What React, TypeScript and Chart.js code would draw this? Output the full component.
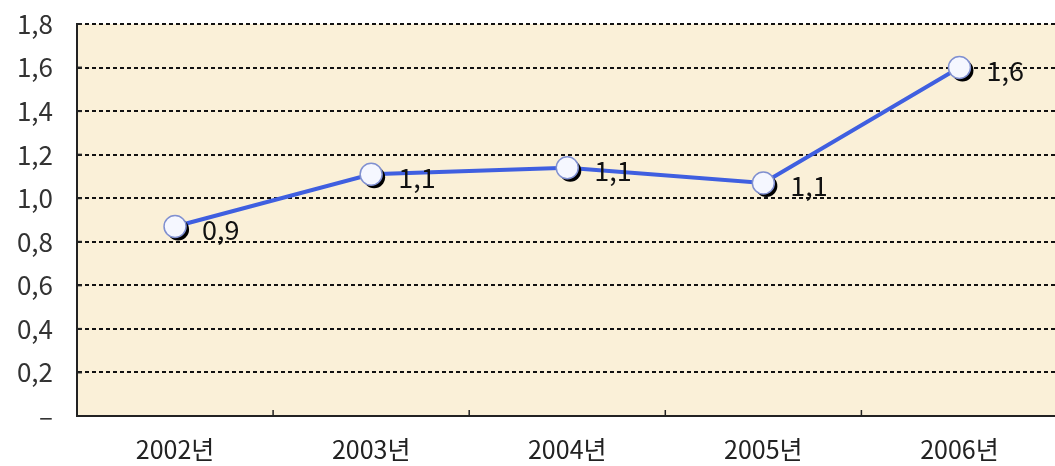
import React, { useEffect, useRef } from "react";
import { Chart, registerables } from "chart.js";

Chart.register(...registerables);

const categories = ["2002년", "2003년", "2004년", "2005년", "2006년"];
const values = [0.87, 1.11, 1.14, 1.07, 1.6];
const yTicks = [0, 0.2, 0.4, 0.6, 0.8, 1.0, 1.2, 1.4, 1.6, 1.8];

const FONT = "'Noto Sans CJK KR', 'Noto Sans', sans-serif";

const fmt = (v: number) => (v === 0 ? "–" : v.toFixed(1).replace(".", ","));

const bgPlugin = {
  id: "plotBg",
  beforeDraw(chart: any) {
    const { ctx, chartArea } = chart;
    ctx.save();
    ctx.fillStyle = "#FAF0D8";
    ctx.fillRect(chartArea.left, chartArea.top, chartArea.right - chartArea.left, chartArea.bottom - chartArea.top);
    ctx.restore();
  },
};

const innerTicks = {
  id: "innerTicks",
  afterDraw(chart: any) {
    const { ctx, chartArea } = chart;
    const xs = chart.scales.x;
    const ys = chart.scales.y;
    ctx.save();
    ctx.strokeStyle = "#222";
    ctx.lineWidth = 1.5;
    for (let i = 1; i < categories.length; i++) {
      const px = (xs.getPixelForValue(i - 1) + xs.getPixelForValue(i)) / 2;
      ctx.beginPath();
      ctx.moveTo(px, chartArea.bottom);
      ctx.lineTo(px, chartArea.bottom - 6);
      ctx.stroke();
    }
    ctx.lineWidth = 2;
    yTicks.forEach((v) => {
      if (v === 0) return;
      const py = ys.getPixelForValue(v);
      ctx.beginPath();
      ctx.moveTo(chartArea.left, py);
      ctx.lineTo(chartArea.left + 5, py);
      ctx.stroke();
    });
    ctx.restore();
  },
};

const shadowPlugin = {
  id: "pointShadow",
  beforeDatasetDraw(chart: any, args: any) {
    if (args.index !== 0) return;
    const ctx = chart.ctx;
    const meta = chart.getDatasetMeta(0);
    ctx.save();
    ctx.fillStyle = "#000";
    meta.data.forEach((el: any) => {
      ctx.beginPath();
      ctx.arc(el.x + 3, el.y + 3, 11, 0, Math.PI * 2);
      ctx.fill();
    });
    ctx.restore();
  },
};

const labelPlugin = {
  id: "valueLabels",
  afterDatasetsDraw(chart: any) {
    const { ctx } = chart;
    const meta = chart.getDatasetMeta(0);
    ctx.save();
    ctx.font = `27px ${FONT}`;
    ctx.fillStyle = "#111";
    ctx.textAlign = "left";
    ctx.textBaseline = "middle";
    meta.data.forEach((el: any, i: number) => {
      ctx.fillText(fmt(values[i]), el.x + 27, el.y + 3);
    });
    ctx.restore();
  },
};

export default function App() {
  const ref = useRef<HTMLCanvasElement>(null);
  useEffect(() => {
    if (!ref.current) return;
    const chart = new Chart(ref.current, {
      type: "line",
      data: {
        labels: categories,
        datasets: [
          {
            data: values,
            showLine: false,
            pointRadius: 11,
            pointBackgroundColor: "#F5F7FF",
            pointBorderColor: "#8090D0",
            pointBorderWidth: 1.5,
          },
          {
            data: values,
            borderColor: "#3F5FE0",
            borderWidth: 4,
            pointRadius: 0,
            tension: 0,
          },
        ],
      },
      options: {
        animation: false,
        responsive: true,
        maintainAspectRatio: false,
        layout: { padding: { top: 24, left: 0, right: 3, bottom: 0 } },
        plugins: { legend: { display: false }, tooltip: { enabled: false } },
        scales: {
          x: {
            offset: true,
            grid: { display: false, drawTicks: false },
            border: { display: true, color: "#222", width: 2 },
            ticks: { color: "#222", font: { family: FONT, size: 25 }, padding: 18 },
            afterFit(s: any) {
              s.height = 50;
              s.paddingLeft = 0;
              s.paddingRight = 0;
            },
          },
          y: {
            min: 0,
            max: 1.8,
            afterBuildTicks(s: any) {
              s.ticks = yTicks.map((v) => ({ value: v }));
            },
            grid: {
              color: (c: any) => (c.tick && c.tick.value === 0 ? "rgba(0,0,0,0)" : "#111"),
              lineWidth: 2,
              drawTicks: false,
            },
            border: { display: true, color: "#222", width: 2, dash: [4, 3] },
            ticks: {
              color: "#333",
              font: { family: FONT, size: 26 },
              padding: 24,
              callback: (v: any) => fmt(Number(v)),
            },
            afterFit(s: any) {
              s.width = 77;
              s.paddingTop = 0;
              s.paddingBottom = 0;
            },
          },
        },
      },
      plugins: [bgPlugin, shadowPlugin, labelPlugin, innerTicks],
    });
    return () => chart.destroy();
  }, []);

  return (
    <div style={{ position: "absolute", left: 0, top: 0, width: 1055, height: 466, overflow: "hidden", background: "#fff" }}>
      <div style={{ position: "relative", width: 1070, height: 466 }}>
        <canvas ref={ref} />
      </div>
    </div>
  );
}
